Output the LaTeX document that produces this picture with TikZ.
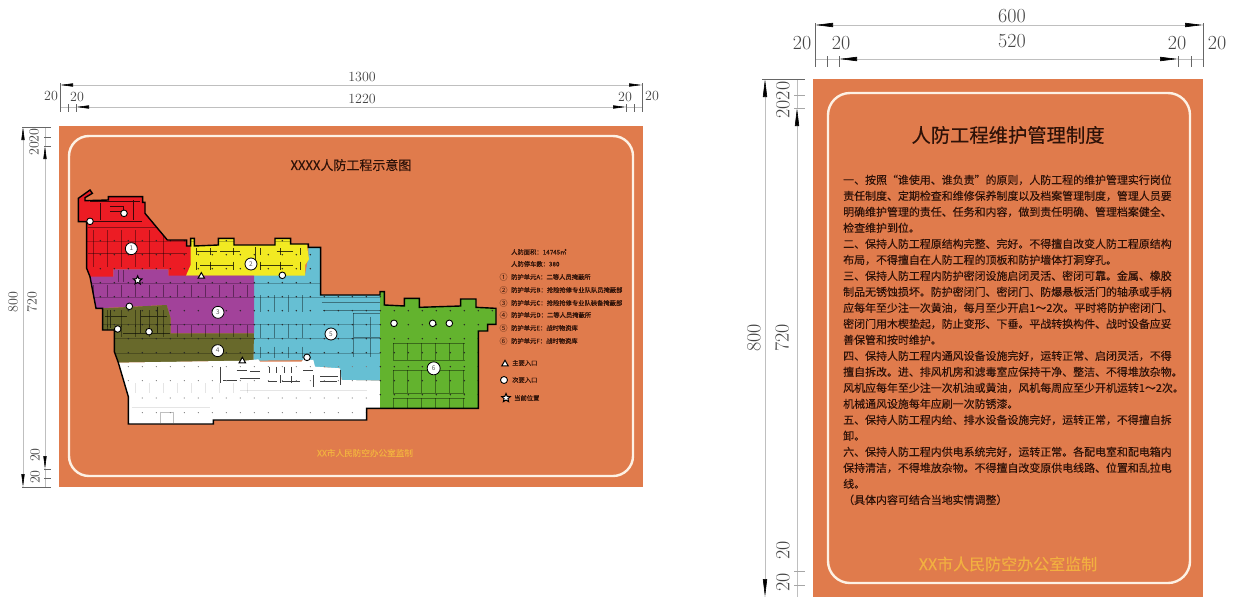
\documentclass[tikz,border=0pt]{standalone}
\usepackage{fontspec}
\usetikzlibrary{arrows.meta,shapes.geometric}
\setmainfont{Noto Sans CJK SC}[FakeBold=0.2]
\newfontfamily\plainfont{Noto Sans CJK SC}
\newfontfamily\dimfont{Latin Modern Roman}
\definecolor{board}{HTML}{E07B4C}
\definecolor{rim}{HTML}{FDF1E4}
\definecolor{gold}{HTML}{F2B040}
\definecolor{ink}{HTML}{2E1208}
\definecolor{dimink}{HTML}{444444}
\definecolor{zred}{HTML}{EC1C24}
\definecolor{zyellow}{HTML}{F2EA22}
\definecolor{zblue}{HTML}{66BFD3}
\definecolor{zpurple}{HTML}{A2429A}
\definecolor{zolive}{HTML}{68692B}
\definecolor{zgreen}{HTML}{63B32E}
\newcommand{\mapoutline}{(55,85)--(90,60)--(97,70)--(75,83)--(75,92)--(145,90)--(145,80)--(248,80)--(248,97)--(255,97)--(255,130)--(322,210)--(380,210)--(380,228)--(392,228)--(392,205)--(403,205)--(403,228)--(475,225)--(475,205)--(522,205)--(522,225)--(645,225)--(645,205)--(692,205)--(692,222)--(745,222)--(745,232)--(782,232)--(782,375)--(960,375)--(960,365)--(973,365)--(973,405)--(1033,408)--(1033,385)--(1078,385)--(1078,412)--(1202,408)--(1202,387)--(1248,387)--(1248,412)--(1308,415)--(1308,463)--(1283,463)--(1283,483)--(1255,483)--(1255,715)--(920,715)--(920,750)--(460,750)--(460,762)--(205,762)--(205,680)--(175,578)--(163,545)--(163,480)--(128,480)--(128,415)--(108,415)--(90,320)--(80,295)--(80,155)--(55,155)--cycle}
\tikzset{
  boardfill/.style={fill=board,draw=none},
  rimline/.style={draw=rim,line width=2.4pt,rounded corners=20pt},
  dimline/.style={draw=black!25,line width=.6pt},
  dimtick/.style={draw=black!60,line width=.6pt},
  smalltip/.style={dimline,{Triangle[color=black,length=13pt,width=3.2pt]}-{Triangle[color=black,length=13pt,width=3.2pt]}},
  bigtip/.style={dimline,{Triangle[color=black,length=18pt,width=4.2pt]}-{Triangle[color=black,length=18pt,width=4.2pt]}},
  dimS/.style={font=\dimfont\fontsize{14}{14}\selectfont,text=dimink,inner sep=0pt},
  dimL/.style={font=\dimfont\fontsize{20}{20}\selectfont,text=dimink,inner sep=0pt},
  legend/.style={font=\fontsize{6.3}{6.3}\selectfont,text=ink,inner sep=0pt,anchor=west},
  sec/.style={circle,fill=white,draw=black,line width=.9pt,inner sep=0pt,minimum size=6.6pt},
  entry/.style={regular polygon,regular polygon sides=3,fill=white,draw=black,line width=1pt,inner sep=0pt,minimum size=7.5pt},
  here/.style={star,star points=5,star point ratio=2.2,fill=white,draw=black,line width=1pt,inner sep=0pt,minimum size=9pt},
  num/.style={circle,fill=white,draw=black,line width=.8pt,inner sep=0pt,minimum size=12pt,font=\plainfont\fontsize{6.5}{6.5}\selectfont,text=black!65},
  fine/.style={draw=black,line width=.3pt,opacity=.4},
  faint/.style={draw=black,line width=.3pt,opacity=.1},
  room/.style={draw=black,line width=.4pt,opacity=.75},
}
\begin{document}
\begin{tikzpicture}[x=1pt,y=-1pt]
\useasboundingbox (0,0) rectangle (1238,597);
\fill[white] (0,0) rectangle (1238,597);

% ---------- left board ----------
\fill[boardfill] (59,126) rectangle (643,487);
\draw[rimline] (69,136) rectangle (633,476);

% left board dimensions
\coordinate (la) at (60,85); \coordinate (lb) at (642,85);
\coordinate (lc) at (76,107); \coordinate (ld) at (626,107);
\coordinate (lc0) at (60,107); \coordinate (ld0) at (642,107);
\coordinate (lt1) at (60,83); \coordinate (lt2) at (60,112);
\coordinate (lt3) at (642,83); \coordinate (lt4) at (642,112);
\draw[smalltip] (la) -- (lb);
\draw[smalltip] (lc) -- (ld);
\draw[dimline] (lc0) -- (lc);
\draw[dimline] (ld) -- (ld0);
\draw[dimtick] (lt1) -- (lt2);
\draw[dimtick] (lt3) -- (lt4);
\foreach \n/\x in {a/68,b/76,c/626,d/634}{
  \coordinate (ltu\n) at (\x,104); \coordinate (ltv\n) at (\x,112);
  \draw[dimtick] (ltu\n) -- (ltv\n);
}
\node[dimS] (l1300) at (362,77) {1300};
\node[dimS] (l1220) at (362,99) {1220};
\node[dimS] (l20a) at (51,96) {20};
\node[dimS] (l20b) at (77,97) {20};
\node[dimS] (l20c) at (625,97) {20};
\node[dimS] (l20d) at (652,96) {20};

\coordinate (lv1) at (23,127); \coordinate (lv2) at (23,487);
\coordinate (lv3) at (45,146); \coordinate (lv4) at (45,469);
\coordinate (lh1) at (22,127); \coordinate (lh2) at (51,127);
\coordinate (lh3) at (22,487); \coordinate (lh4) at (51,487);
\coordinate (lv5) at (45,127); \coordinate (lv6) at (45,487);
\draw[smalltip] (lv1) -- (lv2);
\draw[smalltip] (lv3) -- (lv4);
\draw[dimline] (lv5) -- (lv3);
\draw[dimline] (lv4) -- (lv6);
\draw[dimtick] (lh1) -- (lh2);
\draw[dimtick] (lh3) -- (lh4);
\foreach \n/\y in {a/137,b/146,c/469,d/478}{
  \coordinate (lhu\n) at (44,\y); \coordinate (lhv\n) at (51,\y);
  \draw[dimtick] (lhu\n) -- (lhv\n);
}
\node[dimS,rotate=90] (l800) at (13,302) {800};
\node[dimS,rotate=90] (l720) at (32,302) {720};
\node[dimS,rotate=90] (l2020) at (34,142) {2020};
\node[dimS,rotate=90] (l20e) at (35,455) {20};
\node[dimS,rotate=90] (l20f) at (35,477) {20};

% left board texts
\node[inner sep=0pt,text=ink,font=\fontsize{13}{13}\selectfont] (ltitle) at (351,165) {XXXX人防工程示意图};
\node[inner sep=0pt,text=gold,font=\fontsize{8.6}{8.6}\selectfont] (lfoot) at (365,453) {XX市人民防空办公室监制};
\node[legend] (g1) at (511,252) {人防面积：14745㎡};
\node[legend] (g2) at (511,264) {人防停车数：380};
\foreach \n/\y/\c/\t in {
 3/277/①/防护单元A：二等人员掩蔽所,
 4/290/②/防护单元B：抢险抢修专业队队员掩蔽部,
 5/303/③/防护单元C：抢险抢修专业队装备掩蔽部,
 6/315/④/防护单元D：二等人员掩蔽所,
 7/328/⑤/防护单元E：战时物资库,
 8/341/⑥/防护单元F：战时物资库}{
  \node[legend,anchor=center,font=\plainfont\fontsize{8}{8}\selectfont] (gc\n) at (503.5,\y) {\c};
  \node[legend] (g\n) at (511,\y) {\t};
}
\node[entry] (k1) at (505,364) {};
\node[legend] (kt1) at (512,363) {主要入口};
\node[sec,minimum size=7pt] (k2) at (504,380) {};
\node[legend] (kt2) at (512,380) {次要入口};
\node[here] (k3) at (506,398) {};
\node[legend] (kt3) at (514,398) {当前位置};

% ---------- plan ----------
\begin{scope}[shift={(60,170)},x=.33333pt,y=-.33333pt]
\fill[zred] (55,85)--(90,60)--(97,70)--(75,83)--(75,92)--(145,90)--(145,80)--(248,80)--(248,97)--(255,97)--(255,130)--(322,210)--(380,210)--(380,228)--(395,228)--(395,285)--(378,318)--(325,318)--(325,298)--(160,298)--(160,322)--(90,322)--(80,295)--(80,155)--(55,155)--cycle;
\fill[zblue] (580,315)--(735,315)--(745,262)--(745,230)--(782,232)--(782,375)--(962,375)--(962,632)--(845,632)--(840,595)--(760,590)--(755,570)--(580,572)--cycle;
\fill[zyellow] (392,205)--(403,205)--(403,228)--(475,225)--(475,205)--(522,205)--(522,225)--(645,225)--(645,205)--(692,205)--(692,222)--(740,222)--(747,268)--(735,285)--(735,317)--(378,317)--(392,285)--cycle;
\fill[zpurple] (90,320)--(160,320)--(160,298)--(325,298)--(325,317)--(582,317)--(582,490)--(332,490)--(332,445)--(320,405)--(130,414)--(108,415)--cycle;
\fill[zolive] (128,415)--(320,405)--(332,445)--(332,490)--(582,490)--(580,572)--(175,578)--(163,545)--(163,480)--(128,480)--cycle;
\fill[white] (175,578)--(555,572)--(595,568)--(600,575)--(725,575)--(730,568)--(760,570)--(765,590)--(840,595)--(845,630)--(962,632)--(962,715)--(920,715)--(920,750)--(460,750)--(460,762)--(205,762)--(205,680)--cycle;
\fill[zgreen] (960,375)--(960,365)--(973,365)--(973,405)--(1033,408)--(1033,385)--(1078,385)--(1078,412)--(1202,408)--(1202,387)--(1248,387)--(1248,412)--(1308,415)--(1308,463)--(1283,463)--(1283,483)--(1255,483)--(1255,715)--(960,715)--cycle;

\begin{scope}
\clip \mapoutline;
% parking rows and stalls
\foreach \y in {212,340,380,462,505,548}{
  \draw[fine,opacity=.25] (80,\y) -- (960,\y);
}
\foreach \y in {520,570,600,670,685}{
  \draw[fine] (1000,\y) -- (1215,\y);
}
\foreach \x in {1000,1042,...,1210}{
  \draw[fine] (\x,520) -- (\x,570);
  \draw[fine] (\x,600) -- (\x,670);
  \draw[fine] (\x,685) -- (\x,715);
}
\foreach \x in {600,642,...,760}{
  \draw[fine] (\x,375) -- (\x,425);
  \draw[fine] (\x,462) -- (\x,505);
  \draw[fine] (\x,530) -- (\x,565);
}
\foreach \x in {100,142,...,580}{
  \draw[fine] (\x,345) -- (\x,380);
  \draw[fine] (\x,465) -- (\x,500);
  \draw[faint] (\x,640) -- (\x,670);
}
\foreach \x in {100,142,...,320}{
  \draw[fine] (\x,180) -- (\x,290);
  \draw[fine] (\x,420) -- (\x,470);
}
\draw[fine] (85,250) -- (380,250);
\draw[fine] (85,170) -- (300,170);
\draw[fine] (785,395) -- (960,395) (790,420) -- (960,420) (880,430) -- (960,430);
\draw[fine] (880,430) -- (880,560) (930,440) -- (930,560) (880,500) -- (960,500);
% rooms in the red wing
\draw[room] (90,95) -- (240,95) (150,110) -- (190,110) -- (190,125) -- (150,125) (90,155) -- (245,155) (220,90) -- (220,150) (120,100) -- (120,150);
% rooms along the yellow wing
\foreach \x in {410,450,520,600,660,720}{
  \draw[room] (\x,235) -- (\x,255) (\x,275) -- (\x,300);
}
\draw[room] (410,245) -- (470,245) (480,243) -- (540,243) (650,243) -- (700,243) (420,285) -- (520,285) (600,285) -- (700,285) (585,232) -- (585,270);
% olive
\draw[room,opacity=.6] (135,440) -- (200,440) (240,440) -- (320,440) (150,420) -- (150,475) (240,420) -- (240,490) (293,410) -- (293,490) (190,490) -- (330,490);
% purple stalls
\draw[room,opacity=.4] (175,300) -- (175,335) (190,300) -- (190,335);
% white-zone room fragments
\draw[room] (480,590)--(480,640) (530,600)--(560,600) (570,605)--(600,605) (540,625)--(600,625) (628,590)--(628,610) (650,590)--(650,610) (672,590)--(672,610) (695,590)--(695,610) (625,635)--(650,635) (665,635)--(720,635) (660,615)--(660,640) (695,618)--(695,640) (760,615)--(760,650) (780,620)--(835,620) (840,600)--(840,645) (490,630)--(530,630) (730,600)--(760,600) (780,635)--(830,635);
\draw[faint,opacity=.25] (300,725)--(300,760) (338,725)--(338,760) (300,725)--(338,725);
\draw[faint] (215,712)--(450,712) (920,660)--(540,660);
% column dots
\foreach \x in {121,163,...,1300}{
  \foreach \y in {212,254,296,338,380,422,464,506,548}{
    \fill[black!85] (\x,\y) circle[radius=2.4];
  }
}
\foreach \x in {961,1003,...,1300}{
  \foreach \y in {590,632,674,716}{
    \fill[black!85] (\x,\y) circle[radius=2.4];
  }
}
\foreach \x in {205,247,...,960}{
  \foreach \y in {590,632,684,728}{
    \fill[black!50] (\x,\y) circle[radius=1.8];
  }
}
\end{scope}
\draw[black,line width=1.4pt,line join=miter] \mapoutline;

\node[num] (n1) at (214,236) {1};
\node[num] (n2) at (573,282) {2};
\node[num] (n3) at (474,427) {3};
\node[num] (n4) at (473,542) {4};
\node[num] (n5) at (813,492) {5};
\node[num,minimum size=13pt] (n6) at (1121,595) {6};
\foreach \n/\p in {a/{192,130},b/{90,154},c/{208,409},d/{173,477},e/{267,485},f/{667,316},g/{741,562},h/{1002,460},i/{1118,460},j/{1168,460}}{
  \node[sec] (s\n) at (\p) {};
}
\node[entry] (t1) at (424,319) {};
\node[entry] (t2) at (547,573) {};
\node[here] (st) at (233,331) {};
\end{scope}

% ---------- right board ----------
\fill[boardfill] (813,79) rectangle (1203,597);
\draw[rimline,rounded corners=22pt] (828,93) rectangle (1190,583);

\coordinate (ra) at (815,25); \coordinate (rb) at (1203,25);
\coordinate (rc) at (839,59); \coordinate (rd) at (1178,59);
\coordinate (rc0) at (815,59); \coordinate (rd0) at (1203,59);
\coordinate (rt1) at (815,23); \coordinate (rt2) at (815,67);
\coordinate (rt3) at (1203,23); \coordinate (rt4) at (1203,67);
\draw[bigtip] (ra) -- (rb);
\draw[bigtip] (rc) -- (rd);
\draw[dimline] (rc0) -- (rc);
\draw[dimline] (rd) -- (rd0);
\draw[dimtick] (rt1) -- (rt2);
\draw[dimtick] (rt3) -- (rt4);
\foreach \n/\x in {a/827,b/839,c/1178,d/1191}{
  \coordinate (rtu\n) at (\x,56); \coordinate (rtv\n) at (\x,67);
  \draw[dimtick] (rtu\n) -- (rtv\n);
}
\node[dimL] (r600) at (1012,16) {600};
\node[dimL] (r520) at (1012,41) {520};
\node[dimL] (r20a) at (802,43) {20};
\node[dimL] (r20b) at (841,43) {20};
\node[dimL] (r20c) at (1177,43) {20};
\node[dimL] (r20d) at (1217,43) {20};

\coordinate (rv1) at (765,79); \coordinate (rv2) at (765,597);
\coordinate (rv3) at (797,108); \coordinate (rv4) at (797,597);
\coordinate (rv5) at (797,79);
\coordinate (rh1) at (762,79); \coordinate (rh2) at (805,79);
\draw[bigtip] (rv1) -- (rv2);
\draw[dimline,{Triangle[color=black,length=18pt,width=4.2pt]}-] (rv3) -- (rv4);
\draw[dimline] (rv5) -- (rv3);
\draw[dimtick] (rh1) -- (rh2);
\foreach \n/\y in {a/95,b/108,c/571,d/585}{
  \coordinate (rhu\n) at (794,\y); \coordinate (rhv\n) at (805,\y);
  \draw[dimtick,draw=black!35] (rhu\n) -- (rhv\n);
}
\node[dimL,rotate=90] (r800) at (754,338) {800};
\node[dimL,rotate=90] (r720) at (782,338) {720};
\node[dimL,rotate=90] (r2020) at (783,100) {2020};
\node[dimL,rotate=90] (r20e) at (783,550) {20};
\node[dimL,rotate=90] (r20f) at (783,582) {20};

\node[inner sep=0pt,text=ink,font=\fontsize{19.3}{19.3}\selectfont] (rtitle) at (1008,135) {人防工程维护管理制度};
\node[inner sep=0pt,text=gold,font=\fontsize{16}{16}\selectfont] (rfoot) at (1008,564) {XX市人民防空办公室监制};
\node[inner sep=0pt,text=ink,anchor=north west,align=left,font=\fontsize{10.95}{16}\selectfont] (rbody) at (843,174.5) {一、按照“谁使用、谁负责”的原则，人防工程的维护管理实行岗位\\
责任制度、定期检查和维修保养制度以及档案管理制度，管理人员要\\
明确维护管理的责任、任务和内容，做到责任明确、管理档案健全、\\
检查维护到位。\\
二、保持人防工程原结构完整、完好。不得擅自改变人防工程原结构\\
布局，不得擅自在人防工程的顶板和防护墙体打洞穿孔。\\
三、保持人防工程内防护密闭设施启闭灵活、密闭可靠。金属、橡胶\\
制品无锈蚀损坏。防护密闭门、密闭门、防爆悬板活门的轴承或手柄\\
应每年至少注一次黄油，每月至少开启1～2次。平时将防护密闭门、\\
密闭门用木楔垫起，防止变形、下垂。平战转换构件、战时设备应妥\\
善保管和按时维护。\\
四、保持人防工程内通风设备设施完好，运转正常、启闭灵活，不得\\
擅自拆改。进、排风机房和滤毒室应保持干净、整洁、不得堆放杂物。\\
风机应每年至少注一次机油或黄油，风机每周应至少开机运转1～2次。\\
机械通风设施每年应刷一次防锈漆。\\
五、保持人防工程内给、排水设备设施完好，运转正常，不得擅自拆\\
卸。\\
六、保持人防工程内供电系统完好，运转正常。各配电室和配电箱内\\
保持清洁，不得堆放杂物。不得擅自改变原供电线路、位置和乱拉电\\
线。\\
（具体内容可结合当地实情调整）};
\end{tikzpicture}
\end{document}
